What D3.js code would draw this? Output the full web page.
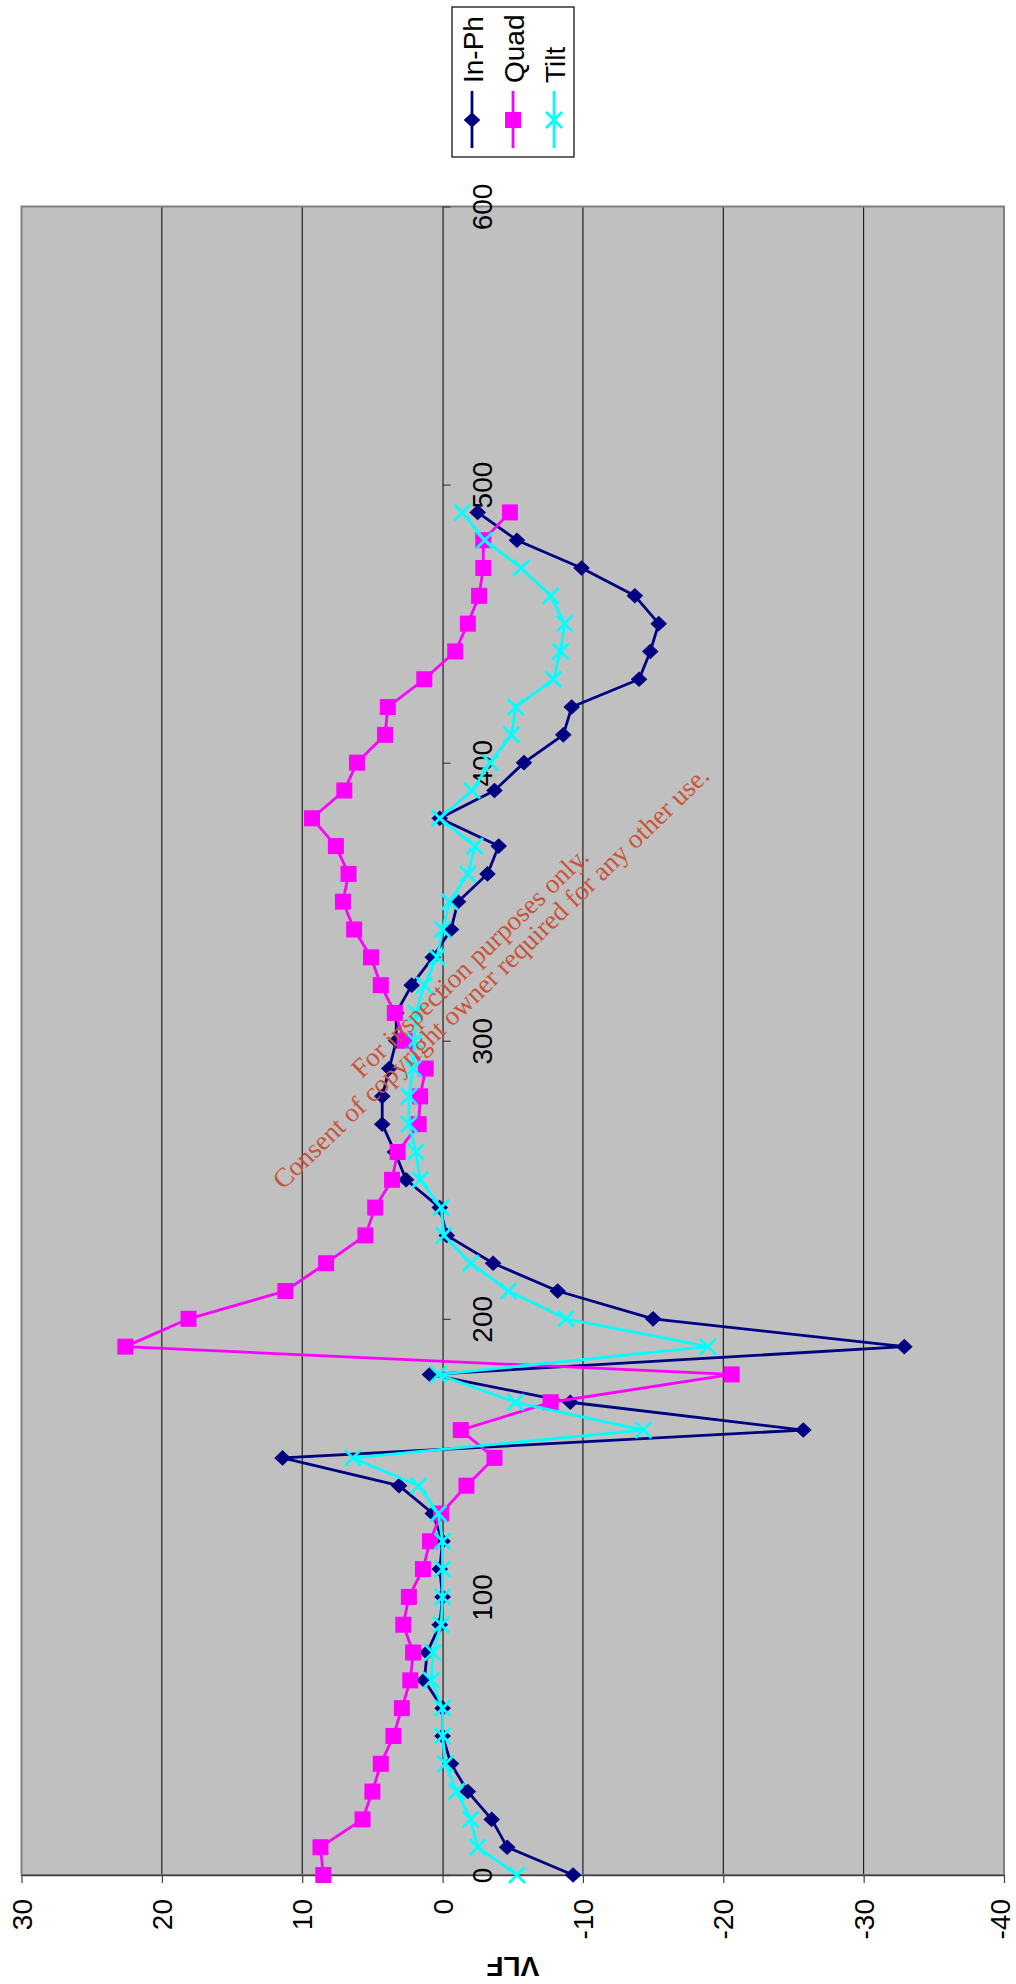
<!DOCTYPE html>
<html>
<head>
<meta charset="utf-8">
<script src="https://cdn.jsdelivr.net/npm/d3@7"></script>
<style>
  html, body { margin: 0; padding: 0; background: #ffffff; }
  svg { display: block; }
</style>
</head>
<body>
<svg id="chart" width="1016" height="1984"></svg>
<script>
// ---- data ----
const distance = [0, 10, 20, 30, 40, 50, 60, 70, 80, 90,
  100, 110, 120, 130, 140, 150, 160, 170, 180, 190,
  200, 210, 220, 230, 240, 250, 260, 270, 280, 290,
  300, 310, 320, 330, 340, 350, 360, 370, 380, 390,
  400, 410, 420, 430, 440, 450, 460, 470, 480, 490];

const inPh = [-9.3, -4.6, -3.5, -1.8, -0.6, 0.0, 0.0, 1.3, 1.1, 0.2,
  0.0, 0.2, 0.0, 0.7, 3.1, 11.4, -25.7, -9.1, 0.9, -32.9,
  -15.0, -8.2, -3.6, -0.3, 0.2, 2.6, 3.4, 4.3, 4.3, 3.8,
  3.3, 3.3, 2.2, 0.7, -0.6, -1.1, -3.2, -4.0, 0.2, -3.7,
  -5.8, -8.6, -9.2, -14.0, -14.8, -15.4, -13.7, -9.9, -5.3, -2.5];

const quad = [8.5, 8.7, 5.7, 5.0, 4.4, 3.5, 2.9, 2.3, 2.1, 2.8,
  2.4, 1.4, 0.9, 0.1, -1.7, -3.7, -1.3, -7.7, -20.6, 22.6,
  18.1, 11.2, 8.3, 5.5, 4.8, 3.6, 3.2, 1.7, 1.6, 1.2,
  2.7, 3.4, 4.4, 5.1, 6.3, 7.1, 6.7, 7.6, 9.3, 7.0,
  6.1, 4.1, 3.9, 1.3, -0.9, -1.8, -2.6, -2.9, -2.9, -4.8];

const tilt = [-5.3, -2.5, -2.0, -1.0, -0.2, 0.0, 0.0, 0.8, 0.7, 0.1,
  0.0, 0.0, 0.0, 0.3, 1.7, 6.4, -14.3, -5.2, 0.3, -18.9,
  -8.8, -4.7, -2.0, -0.1, 0.1, 1.6, 1.9, 2.4, 2.4, 2.1,
  2.0, 1.9, 1.3, 0.4, 0.0, -0.5, -1.8, -2.3, 0.2, -2.1,
  -3.4, -4.9, -5.2, -7.9, -8.4, -8.7, -7.7, -5.6, -3.0, -1.4];

const seriesNames = ["In-Ph", "Quad", "Tilt"];
const seriesColors = ["#000080", "#FF00FF", "#00FFFF"];
const seriesMarkers = ["diamond", "square", "x"];
const seriesValues = [inPh, quad, tilt];

const vlfTicks = [30, 20, 10, 0, -10, -20, -30, -40];
const distTicks = [0, 100, 200, 300, 400, 500, 600];
const axisTitle = "VLF";
const watermark = ["For inspection purposes only.",
                   "Consent of copyright owner required for any other use."];

// ---- layout ----
const W = 1016;
const svg = d3.select("#chart");
const plot = { left: 21.5, right: 1004, top: 206.5, bottom: 1875 };

// VLF runs horizontally (30 at left, -40 at right); distance runs vertically (0 at bottom)
const x = d3.scaleLinear().domain([30, -40]).range([plot.left, plot.right]);
const y = d3.scaleLinear().domain([0, 600]).range([plot.bottom, plot.top]);

svg.append("rect").attr("width", W).attr("height", 1984).attr("fill", "#ffffff");

// plot area
svg.append("rect")
  .attr("x", plot.left).attr("y", plot.top)
  .attr("width", plot.right - plot.left).attr("height", plot.bottom - plot.top)
  .attr("fill", "#C0C0C0");

// gridlines
svg.append("g").selectAll("line")
  .data(vlfTicks.filter(v => v !== 0 && v !== 30 && v !== -40))
  .join("line")
  .attr("x1", d => x(d)).attr("x2", d => x(d))
  .attr("y1", plot.top).attr("y2", plot.bottom)
  .attr("stroke", "#000000").attr("stroke-width", 1);

// border
svg.append("rect")
  .attr("x", plot.left).attr("y", plot.top)
  .attr("width", plot.right - plot.left).attr("height", plot.bottom - plot.top)
  .attr("fill", "none").attr("stroke", "#808080").attr("stroke-width", 2);

const labelFont = "'Liberation Sans', Arial, sans-serif";
const plainFormat = d => String(d);

// VLF axis at bottom
const xAxis = svg.append("g")
  .attr("transform", `translate(0,${plot.bottom})`)
  .call(d3.axisBottom(x).tickValues(vlfTicks).tickSize(8).tickSizeOuter(0).tickFormat(plainFormat));
xAxis.select(".domain").attr("stroke", "#404040").attr("stroke-width", 1.5);
xAxis.selectAll(".tick line").attr("stroke", "#404040").attr("stroke-width", 1.2);
xAxis.selectAll(".tick text")
  .attr("x", 0).attr("y", 0).attr("dy", null)
  // keep the rotated label's box inside the page at the right edge
  .attr("transform", d => `translate(${Math.min(9.5, W - 1 - 6 - x(d))},24) rotate(-90)`)
  .attr("text-anchor", "end")
  .attr("fill", "#000000")
  .style("font-family", labelFont).style("font-size", "28px");

// distance axis along VLF = 0
const yAxis = svg.append("g")
  .attr("transform", `translate(${x(0)},0)`)
  .call(d3.axisRight(y).tickValues(distTicks).tickSize(8).tickSizeOuter(0).tickFormat(plainFormat));
yAxis.select(".domain").attr("stroke", "#404040").attr("stroke-width", 1.5);
yAxis.selectAll(".tick line").attr("stroke", "#404040").attr("stroke-width", 1.2);
yAxis.selectAll(".tick text")
  .attr("x", 0).attr("y", 0).attr("dy", null)
  .attr("transform", "translate(49,0) rotate(-90)")
  .attr("text-anchor", "middle")
  .attr("fill", "#000000")
  .style("font-family", labelFont).style("font-size", "28px");

// axis title (upside down)
svg.append("text")
  .attr("transform", `translate(${(plot.left + plot.right) / 2},1957) rotate(180)`)
  .attr("text-anchor", "middle")
  .style("font-family", labelFont).style("font-size", "28px").style("font-weight", "bold")
  .text(axisTitle);

// marker drawing
function drawMarker(g, type, color) {
  if (type === "diamond") {
    g.append("path").attr("d", "M0,-7.8L8.3,0L0,7.8L-8.3,0Z").attr("fill", color);
  } else if (type === "square") {
    g.append("rect").attr("x", -8).attr("y", -8).attr("width", 16).attr("height", 16).attr("fill", color);
  } else {
    g.append("path").attr("d", "M-8,-8L8,8M-8,8L8,-8")
      .attr("stroke", color).attr("stroke-width", 2.8).attr("fill", "none");
  }
}

// series
const line = d3.line()
  .x(d => x(d.v))
  .y(d => y(d.d));

seriesValues.forEach((vals, i) => {
  const pts = vals.map((v, k) => ({ d: distance[k], v: v }));
  const g = svg.append("g");
  g.append("path")
    .datum(pts)
    .attr("d", line)
    .attr("fill", "none")
    .attr("stroke", seriesColors[i])
    .attr("stroke-width", 2.8)
    .attr("stroke-linejoin", "round");
  g.selectAll("g.mk")
    .data(pts)
    .join("g")
    .attr("class", "mk")
    .attr("transform", d => `translate(${x(d.v)},${y(d.d)})`)
    .each(function () { drawMarker(d3.select(this), seriesMarkers[i], seriesColors[i]); });
});

// watermark
const wm = svg.append("g")
  .style("font-family", "'Liberation Serif', 'Times New Roman', serif")
  .style("font-size", "27px")
  .attr("fill", "#C8553A");
const wmCenters = [[476, 969], [497, 984]];
watermark.forEach((t, i) => {
  wm.append("text")
    .attr("transform", `translate(${wmCenters[i][0]},${wmCenters[i][1]}) rotate(-44)`)
    .attr("text-anchor", "middle")
    .text(t);
});

// legend
const legend = svg.append("g");
legend.append("rect")
  .attr("x", 452).attr("y", 7).attr("width", 122).attr("height", 150)
  .attr("fill", "#ffffff").attr("stroke", "#000000").attr("stroke-width", 1.2);
const legendX = [472, 513, 554];
seriesNames.forEach((name, i) => {
  const lx = legendX[i];
  legend.append("line")
    .attr("x1", lx).attr("x2", lx).attr("y1", 91).attr("y2", 148)
    .attr("stroke", seriesColors[i]).attr("stroke-width", 2.8);
  const mg = legend.append("g").attr("transform", `translate(${lx},120)`);
  drawMarker(mg, seriesMarkers[i], seriesColors[i]);
  legend.append("text")
    .attr("transform", `translate(${lx + 11},83) rotate(-90)`)
    .attr("text-anchor", "start")
    .style("font-family", labelFont).style("font-size", "28px")
    .text(name);
});
</script>
</body>
</html>
